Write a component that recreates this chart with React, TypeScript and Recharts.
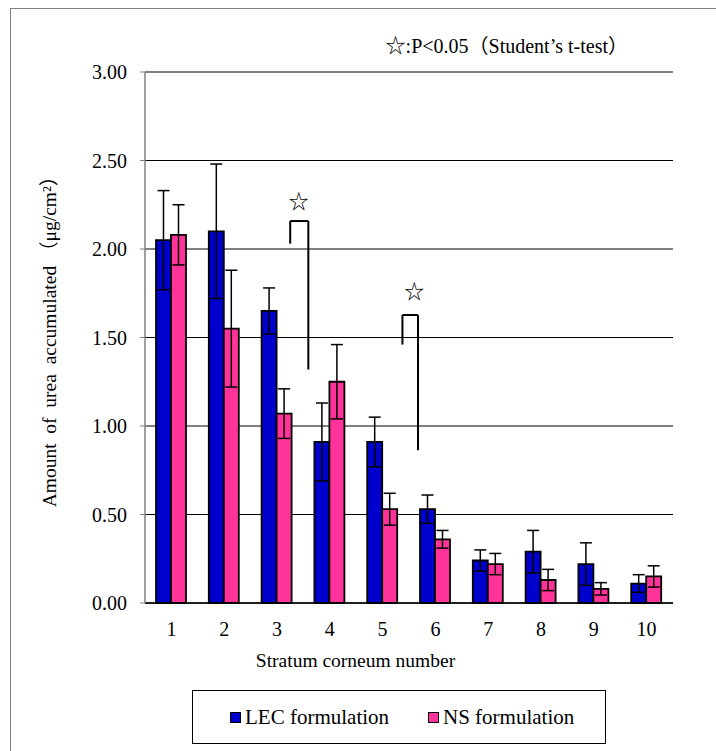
import React from 'react';
import {
  BarChart,
  Bar,
  XAxis,
  YAxis,
  CartesianGrid,
  ErrorBar,
  ReferenceLine,
  ReferenceDot,
  Legend,
} from 'recharts';

const categories = ['1', '2', '3', '4', '5', '6', '7', '8', '9', '10'];
const lecValues = [2.05, 2.1, 1.65, 0.91, 0.91, 0.53, 0.24, 0.29, 0.22, 0.11];
const lecErrors = [0.28, 0.38, 0.13, 0.22, 0.14, 0.08, 0.06, 0.12, 0.12, 0.05];
const nsValues = [2.08, 1.55, 1.07, 1.25, 0.53, 0.36, 0.22, 0.13, 0.08, 0.15];
const nsErrors = [0.17, 0.33, 0.14, 0.21, 0.09, 0.05, 0.06, 0.06, 0.035, 0.06];
const yTicks = [0, 0.5, 1.0, 1.5, 2.0, 2.5, 3.0];
const seriesNames = ['LEC formulation', 'NS formulation'];
const seriesColors = ['#0000CC', '#FF3399'];

// significance brackets (category-position units, value units)
const brackets = [
  { xL: 2.475, xR: 2.784, top: 2.158, bottomL: 2.03, bottomR: 1.319, starX: 2.62, starY: 2.264 },
  { xL: 4.388, xR: 4.653, top: 1.627, bottomL: 1.46, bottomR: 0.863, starX: 4.59, starY: 1.756 },
];

const titleText = '☆:P<0.05（Student\u2019s t-test）';
const xLabel = 'Stratum corneum number';
const yLabel = 'Amount\u00a0\u00a0of\u00a0\u00a0urea\u00a0\u00a0accumulated\u00a0（μg/cm²）';

const data = categories.map((c, i) => ({
  name: c,
  lec: lecValues[i],
  lecErr: lecErrors[i],
  ns: nsValues[i],
  nsErr: nsErrors[i],
}));

const FONT = 'Liberation Serif, DejaVu Serif, Times New Roman, Noto Sans CJK JP';

const renderLegend = () => (
  <div
    style={{
      boxSizing: 'border-box',
      width: 414,
      height: 54,
      border: '1.5px solid #000',
      background: '#fff',
      position: 'relative',
      fontFamily: FONT,
      fontSize: 21,
      color: '#000',
    }}
  >
    {seriesNames.map((n, i) => (
      <div
        key={n}
        style={{
          position: 'absolute',
          left: i === 0 ? 37 : 235,
          top: 0,
          height: 52,
          display: 'flex',
          alignItems: 'center',
          whiteSpace: 'nowrap',
        }}
      >
        <span
          style={{
            display: 'inline-block',
            width: 9,
            height: 9,
            border: '1.5px solid #000',
            background: seriesColors[i],
            marginRight: 4,
          }}
        />
        <span>{n}</span>
      </div>
    ))}
  </div>
);

export default function App() {
  return (
    <div
      style={{
        position: 'absolute',
        left: 0,
        top: 0,
        width: 716,
        height: 751,
        overflow: 'hidden',
        background: '#fff',
        fontFamily: FONT,
      }}
    >
      <div
        style={{
          position: 'absolute',
          left: 10,
          top: 8,
          width: 800,
          height: 800,
          border: '1.5px solid #808080',
          boxSizing: 'border-box',
        }}
      />
      <div style={{ position: 'absolute', left: 0, top: 0 }}>
        <BarChart
          width={716}
          height={751}
          data={data}
          margin={{ top: 72, right: 43, left: 0, bottom: 78 }}
          barSize={15}
          barGap={0}
          style={{ fontFamily: FONT }}
        >
          <CartesianGrid horizontal vertical={false} stroke="#000" strokeWidth={1} />
          <XAxis
            xAxisId="num"
            type="number"
            domain={[0, 10]}
            ticks={[1, 2, 3, 4, 5, 6, 7, 8, 9]}
            height={0}
            mirror
            axisLine={false}
            tick={false}
            tickLine={{ stroke: '#000', strokeWidth: 1 }}
            tickSize={5}
            allowDataOverflow
          />
          <XAxis
            dataKey="name"
            height={70}
            tickLine={false}
            tickSize={0}
            tickMargin={19}
            axisLine={{ stroke: '#000', strokeWidth: 1.5 }}
            tick={{ fill: '#000', fontSize: 20, fontFamily: FONT }}
            interval={0}
          />
          <YAxis
            width={145}
            domain={[0, 3]}
            ticks={yTicks}
            tickFormatter={(v: number) => v.toFixed(2)}
            tickSize={5}
            tickMargin={13}
            axisLine={{ stroke: '#808080', strokeWidth: 1.5 }}
            tickLine={{ stroke: '#808080' }}
            tick={{ fill: '#000', fontSize: 20, fontFamily: FONT }}
          />
          <ReferenceLine xAxisId="num" x={10} stroke="#808080" strokeWidth={1.5} />
          <Bar dataKey="lec" name={seriesNames[0]} fill={seriesColors[0]} stroke="#000" strokeWidth={1.8} isAnimationActive={false}>
            <ErrorBar dataKey="lecErr" width={6} stroke="#000" strokeWidth={1.5} direction="y" />
          </Bar>
          <Bar dataKey="ns" name={seriesNames[1]} fill={seriesColors[1]} stroke="#000" strokeWidth={1.8} isAnimationActive={false}>
            <ErrorBar dataKey="nsErr" width={6} stroke="#000" strokeWidth={1.5} direction="y" />
          </Bar>
          {brackets.map((b, i) => (
            <ReferenceLine
              key={'l' + i}
              xAxisId="num"
              segment={[{ x: b.xL, y: b.bottomL }, { x: b.xL, y: b.top }]}
              stroke="#000"
              strokeWidth={2}
            />
          ))}
          {brackets.map((b, i) => (
            <ReferenceLine
              key={'t' + i}
              xAxisId="num"
              segment={[{ x: b.xL, y: b.top }, { x: b.xR, y: b.top }]}
              stroke="#000"
              strokeWidth={2}
            />
          ))}
          {brackets.map((b, i) => (
            <ReferenceLine
              key={'r' + i}
              xAxisId="num"
              segment={[{ x: b.xR, y: b.top }, { x: b.xR, y: b.bottomR }]}
              stroke="#000"
              strokeWidth={2}
            />
          ))}
          {brackets.map((b, i) => (
            <ReferenceDot
              key={'s' + i}
              xAxisId="num"
              x={b.starX}
              y={b.starY}
              r={0}
              fill="none"
              stroke="none"
              label={{ value: '☆', position: 'center', fill: '#000', fontSize: 20, fontFamily: FONT }}
            />
          ))}
          <Legend
            layout="vertical"
            align="center"
            verticalAlign="middle"
            wrapperStyle={{ position: 'absolute', left: 192, top: 690, width: 414, height: 54 }}
            content={renderLegend}
          />
          <text x={628} y={53} textAnchor="end" fontSize={20} fontFamily={FONT} fill="#000">
            {titleText}
          </text>
          <text x={355.5} y={667} textAnchor="middle" fontSize={19.5} fontFamily={FONT} fill="#000">
            {xLabel}
          </text>
          <text
            transform="translate(56,337) rotate(-90)"
            textAnchor="middle"
            fontSize={19.5}
            fontFamily={FONT}
            fill="#000"
          >
            {yLabel}
          </text>
        </BarChart>
      </div>
    </div>
  );
}
